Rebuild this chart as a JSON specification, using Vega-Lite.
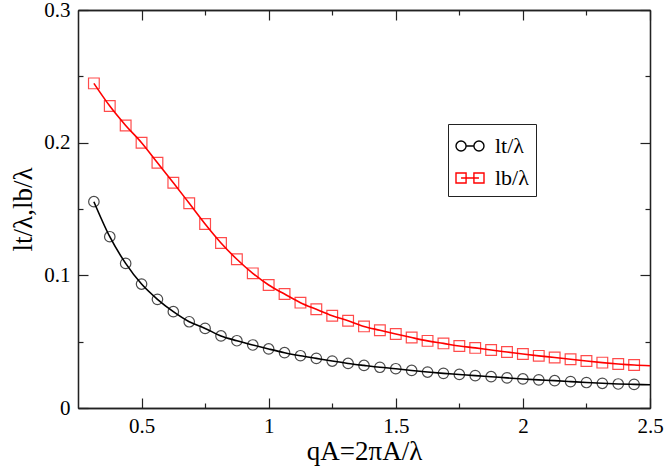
{
  "$schema": "https://vega.github.io/schema/vega-lite/v6.json",
  "width": 572,
  "height": 398,
  "autosize": "none",
  "padding": {"left": 78, "top": 10, "right": 14, "bottom": 61},
  "background": "white",
  "data": {
    "values": [
      {"s": "lt/λ", "x": 0.3125, "y": 0.1555, "m": 1},
      {"s": "lt/λ", "x": 0.375, "y": 0.1291, "m": 1},
      {"s": "lt/λ", "x": 0.4375, "y": 0.109, "m": 1},
      {"s": "lt/λ", "x": 0.5, "y": 0.0934, "m": 1},
      {"s": "lt/λ", "x": 0.5625, "y": 0.0819, "m": 1},
      {"s": "lt/λ", "x": 0.625, "y": 0.0726, "m": 1},
      {"s": "lt/λ", "x": 0.6875, "y": 0.065, "m": 1},
      {"s": "lt/λ", "x": 0.75, "y": 0.06, "m": 1},
      {"s": "lt/λ", "x": 0.8125, "y": 0.0543, "m": 1},
      {"s": "lt/λ", "x": 0.875, "y": 0.0507, "m": 1},
      {"s": "lt/λ", "x": 0.9375, "y": 0.0475, "m": 1},
      {"s": "lt/λ", "x": 1.0, "y": 0.0445, "m": 1},
      {"s": "lt/λ", "x": 1.0625, "y": 0.0417, "m": 1},
      {"s": "lt/λ", "x": 1.125, "y": 0.0394, "m": 1},
      {"s": "lt/λ", "x": 1.1875, "y": 0.0374, "m": 1},
      {"s": "lt/λ", "x": 1.25, "y": 0.0354, "m": 1},
      {"s": "lt/λ", "x": 1.3125, "y": 0.0336, "m": 1},
      {"s": "lt/λ", "x": 1.375, "y": 0.0321, "m": 1},
      {"s": "lt/λ", "x": 1.4375, "y": 0.0307, "m": 1},
      {"s": "lt/λ", "x": 1.5, "y": 0.0296, "m": 1},
      {"s": "lt/λ", "x": 1.5625, "y": 0.0283, "m": 1},
      {"s": "lt/λ", "x": 1.625, "y": 0.0271, "m": 1},
      {"s": "lt/λ", "x": 1.6875, "y": 0.0261, "m": 1},
      {"s": "lt/λ", "x": 1.75, "y": 0.0253, "m": 1},
      {"s": "lt/λ", "x": 1.8125, "y": 0.0244, "m": 1},
      {"s": "lt/λ", "x": 1.875, "y": 0.0236, "m": 1},
      {"s": "lt/λ", "x": 1.9375, "y": 0.0227, "m": 1},
      {"s": "lt/λ", "x": 2.0, "y": 0.0219, "m": 1},
      {"s": "lt/λ", "x": 2.0625, "y": 0.0212, "m": 1},
      {"s": "lt/λ", "x": 2.125, "y": 0.0206, "m": 1},
      {"s": "lt/λ", "x": 2.1875, "y": 0.0199, "m": 1},
      {"s": "lt/λ", "x": 2.25, "y": 0.0192, "m": 1},
      {"s": "lt/λ", "x": 2.3125, "y": 0.0186, "m": 1},
      {"s": "lt/λ", "x": 2.375, "y": 0.0181, "m": 1},
      {"s": "lt/λ", "x": 2.4375, "y": 0.0178, "m": 1},
      {"s": "lt/λ", "x": 2.5, "y": 0.0175, "m": 0},
      {"s": "lb/λ", "x": 0.3125, "y": 0.2447, "m": 1},
      {"s": "lb/λ", "x": 0.375, "y": 0.2276, "m": 1},
      {"s": "lb/λ", "x": 0.4375, "y": 0.213, "m": 1},
      {"s": "lb/λ", "x": 0.5, "y": 0.2, "m": 1},
      {"s": "lb/λ", "x": 0.5625, "y": 0.1849, "m": 1},
      {"s": "lb/λ", "x": 0.625, "y": 0.1698, "m": 1},
      {"s": "lb/λ", "x": 0.6875, "y": 0.1543, "m": 1},
      {"s": "lb/λ", "x": 0.75, "y": 0.1387, "m": 1},
      {"s": "lb/λ", "x": 0.8125, "y": 0.1244, "m": 1},
      {"s": "lb/λ", "x": 0.875, "y": 0.1121, "m": 1},
      {"s": "lb/λ", "x": 0.9375, "y": 0.1015, "m": 1},
      {"s": "lb/λ", "x": 1.0, "y": 0.0927, "m": 1},
      {"s": "lb/λ", "x": 1.0625, "y": 0.0859, "m": 1},
      {"s": "lb/λ", "x": 1.125, "y": 0.0794, "m": 1},
      {"s": "lb/λ", "x": 1.1875, "y": 0.0744, "m": 1},
      {"s": "lb/λ", "x": 1.25, "y": 0.0696, "m": 1},
      {"s": "lb/λ", "x": 1.3125, "y": 0.0658, "m": 1},
      {"s": "lb/λ", "x": 1.375, "y": 0.0615, "m": 1},
      {"s": "lb/λ", "x": 1.4375, "y": 0.0586, "m": 1},
      {"s": "lb/λ", "x": 1.5, "y": 0.0558, "m": 1},
      {"s": "lb/λ", "x": 1.5625, "y": 0.0531, "m": 1},
      {"s": "lb/λ", "x": 1.625, "y": 0.0506, "m": 1},
      {"s": "lb/λ", "x": 1.6875, "y": 0.0487, "m": 1},
      {"s": "lb/λ", "x": 1.75, "y": 0.0467, "m": 1},
      {"s": "lb/λ", "x": 1.8125, "y": 0.0453, "m": 1},
      {"s": "lb/λ", "x": 1.875, "y": 0.0437, "m": 1},
      {"s": "lb/λ", "x": 1.9375, "y": 0.0422, "m": 1},
      {"s": "lb/λ", "x": 2.0, "y": 0.0407, "m": 1},
      {"s": "lb/λ", "x": 2.0625, "y": 0.0393, "m": 1},
      {"s": "lb/λ", "x": 2.125, "y": 0.0381, "m": 1},
      {"s": "lb/λ", "x": 2.1875, "y": 0.0367, "m": 1},
      {"s": "lb/λ", "x": 2.25, "y": 0.0354, "m": 1},
      {"s": "lb/λ", "x": 2.3125, "y": 0.0342, "m": 1},
      {"s": "lb/λ", "x": 2.375, "y": 0.0332, "m": 1},
      {"s": "lb/λ", "x": 2.4375, "y": 0.0324, "m": 1},
      {"s": "lb/λ", "x": 2.5, "y": 0.0319, "m": 0}
    ]
  },
  "encoding": {
    "x": {"field": "x", "type": "quantitative", "scale": {"domain": [0.25, 2.5], "nice": false, "zero": false}},
    "y": {"field": "y", "type": "quantitative", "scale": {"domain": [0, 0.3], "nice": false}},
    "color": {
      "field": "s",
      "type": "nominal",
      "scale": {"domain": ["lt/λ", "lb/λ"], "range": ["#000000", "#ff0000"]},
      "legend": null
    }
  },
  "layer": [
    {
      "transform": [{"filter": "datum.s == 'lt/λ'"}],
      "mark": {"type": "line", "interpolate": "monotone", "strokeWidth": 1.6},
      "encoding": {
        "x": {
          "field": "x", "type": "quantitative",
          "axis": {
            "orient": "bottom", "values": [0.5, 1, 1.5, 2, 2.5], "format": ".1~f",
            "tickSize": -10, "labelPadding": 17, "title": "qA=2πA/λ", "titleFontSize": 27,
            "titlePadding": 2, "labelFlush": false
          }
        },
        "y": {
          "field": "y", "type": "quantitative",
          "axis": {
            "orient": "left", "values": [0, 0.1, 0.2, 0.3], "format": ".1~f",
            "tickSize": -10, "labelPadding": 18, "title": "lt/λ,lb/λ", "titleFontSize": 27,
            "titlePadding": 6
          }
        },
        "color": {
          "field": "s", "type": "nominal",
          "legend": {
            "orient": "none", "legendX": 370, "legendY": 114,
            "title": null, "strokeColor": "#222222", "padding": 7,
            "labelFont": "Liberation Serif", "labelFontSize": 22, "labelOffset": 10,
            "symbolSize": 784, "rowPadding": 6, "symbolStrokeWidth": 1.4,
            "encode": {
              "symbols": {
                "update": {
                  "shape": {"signal": "datum.value == 'lt/λ' ? 'M-1,0A0.36,0.36,0,1,0,-0.28,0A0.36,0.36,0,1,0,-1,0ZM-0.28,0L0.28,0M0.28,0A0.36,0.36,0,1,0,1,0A0.36,0.36,0,1,0,0.28,0Z' : 'M-1,-0.36L-0.28,-0.36L-0.28,0.36L-1,0.36ZM-0.64,0L0.64,0M0.28,-0.36L1,-0.36L1,0.36L0.28,0.36Z'"},
                  "fill": {"value": "transparent"},
                  "stroke": {"scale": "color", "field": "value"},
                  "strokeWidth": {"value": 1.4}
                }
              }
            }
          }
        }
      }
    },
    {
      "transform": [{"filter": "datum.s == 'lb/λ'"}],
      "mark": {"type": "line", "interpolate": "monotone", "strokeWidth": 1.6},
      "encoding": {
        "x": {
          "field": "x", "type": "quantitative",
          "axis": {"orient": "bottom", "values": [0.75, 1.25, 1.75, 2.25], "tickSize": -5, "labels": false, "title": null}
        },
        "y": {
          "field": "y", "type": "quantitative",
          "axis": {"orient": "left", "values": [0.05, 0.15, 0.25], "tickSize": -5, "labels": false, "title": null}
        }
      }
    },
    {
      "transform": [{"filter": "datum.s == 'lt/λ' && datum.m == 1"}],
      "mark": {"type": "point", "shape": "circle", "filled": false, "size": 110, "strokeWidth": 1.2},
      "encoding": {
        "x": {
          "field": "x", "type": "quantitative",
          "axis": {"orient": "top", "values": [0.5, 1, 1.5, 2, 2.5], "tickSize": -10, "labels": false, "title": null}
        },
        "y": {
          "field": "y", "type": "quantitative",
          "axis": {"orient": "right", "values": [0, 0.1, 0.2, 0.3], "tickSize": -10, "labels": false, "title": null}
        }
      }
    },
    {
      "transform": [{"filter": "datum.s == 'lb/λ' && datum.m == 1"}],
      "mark": {"type": "point", "shape": "square", "filled": false, "size": 115, "strokeWidth": 1.2},
      "encoding": {
        "x": {
          "field": "x", "type": "quantitative",
          "axis": {"orient": "top", "values": [0.75, 1.25, 1.75, 2.25], "tickSize": -5, "labels": false, "title": null}
        },
        "y": {
          "field": "y", "type": "quantitative",
          "axis": {"orient": "right", "values": [0.05, 0.15, 0.25], "tickSize": -5, "labels": false, "title": null}
        }
      }
    }
  ],
  "resolve": {"axis": {"x": "independent", "y": "independent"}},
  "config": {
    "view": {"stroke": null},
    "font": "Liberation Serif",
    "axis": {
      "grid": false,
      "domainColor": "#222222",
      "domainWidth": 1.3,
      "tickColor": "#222222",
      "tickWidth": 1.2,
      "labelFont": "Liberation Serif",
      "labelFontSize": 21,
      "labelColor": "#000000",
      "titleFont": "Liberation Serif",
      "titleFontWeight": "normal",
      "titleColor": "#000000"
    }
  }
}
